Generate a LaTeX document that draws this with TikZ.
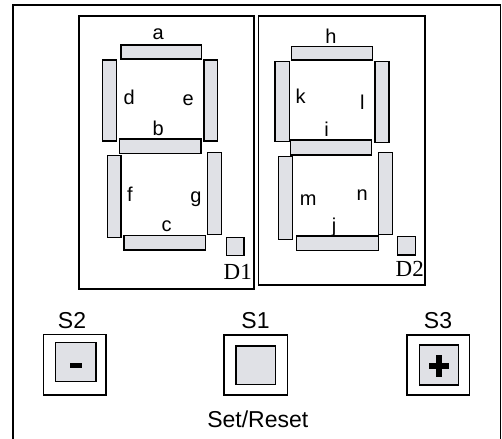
\documentclass[tikz,border=0pt]{standalone}
\usepackage{fontspec}
\setmainfont{Liberation Serif}
\setsansfont{Liberation Sans}
\definecolor{segfill}{RGB}{224,225,230}
\begin{document}
\begin{tikzpicture}[x=1pt,y=-1pt,
  frame/.style={draw=black,line width=1.8pt},
  seg/.style={draw=black,fill=segfill,line width=1.5pt},
  btnout/.style={draw=black,line width=1.4pt},
  btnin/.style={draw=black,fill=segfill,line width=1.4pt},
  seglbl/.style={inner sep=0pt,font=\sffamily\fontsize{20}{20}\selectfont},
  btnlbl/.style={inner sep=0pt,font=\sffamily\fontsize{23}{23}\selectfont},
  dlbl/.style={inner sep=0pt,font=\rmfamily\fontsize{23}{23}\selectfont}]
\useasboundingbox (0,0) rectangle (502,438);
% outer border
\draw[frame] (13,445) -- (13,5) -- (500.5,5) -- (500.5,445);
% digit boxes
\draw[frame] (79,16) rectangle (254.3,289);
\draw[frame] (258.5,16) rectangle (425,285);
% digit 1 segments
\draw[seg] (121,45) rectangle (201.7,59);
\draw[seg] (102.7,60) rectangle (116.7,141);
\draw[seg] (204,60) rectangle (217.7,141);
\draw[seg] (119.3,139) rectangle (201,153.3);
\draw[seg] (107.3,155.7) rectangle (121,237.7);
\draw[seg] (207.3,152.7) rectangle (221.7,234.3);
\draw[seg] (124,235.3) rectangle (205.7,250);
\draw[seg] (226.7,237.7) rectangle (244,255.7);
% digit 2 segments
\draw[seg] (291.7,46.7) rectangle (372.3,60);
\draw[seg] (275,61.7) rectangle (289.3,141.7);
\draw[seg] (375,61.7) rectangle (389,142.3);
\draw[seg] (290.7,140) rectangle (371.7,155);
\draw[seg] (278.3,156.7) rectangle (292.3,239.3);
\draw[seg] (378.3,152.7) rectangle (392.3,234.3);
\draw[seg] (296.7,236) rectangle (378.3,250.7);
\draw[seg] (397.5,236.7) rectangle (415.3,255);
% segment labels
\node[seglbl] (la) at (158.3,34.3) {a};
\node[seglbl] (ld) at (129.3,97) {d};
\node[seglbl] (le) at (188.3,100.7) {e};
\node[seglbl] (lb) at (158.3,128) {b};
\node[seglbl] (lf) at (130,194) {f};
\node[seglbl] (lg) at (196,199) {g};
\node[seglbl] (lc) at (166.7,226) {c};
\node[seglbl] (lh) at (331,36.7) {h};
\node[seglbl] (lk) at (300.7,96.7) {k};
\node[seglbl] (ll) at (362.3,102.5) {l};
\node[seglbl] (li) at (326.7,129) {i};
\node[seglbl] (lm) at (308.3,200) {m};
\node[seglbl] (ln) at (362.3,195) {n};
\node[seglbl] (lj) at (334,227) {j};
\node[dlbl] (d1) at (237.8,271.7) {D1};
\node[dlbl] (d2) at (409.7,268.7) {D2};
% buttons
\draw[btnout] (43.3,334.3) rectangle (106,395);
\draw[btnin] (55.7,342.7) rectangle (96,381.7);
\fill[black] (70,362.7) rectangle (81.7,368.3);
\draw[btnout] (224,335) rectangle (287.3,395);
\draw[btnin] (236,346) rectangle (275.7,384.3);
\draw[btnout] (407,335) rectangle (469.3,395);
\draw[btnin] (419.7,345) rectangle (458.7,385);
\fill[black] (428.7,363.3) rectangle (449.3,368.5);
\fill[black] (436.4,355) rectangle (441.6,376.7);
\node[btnlbl] (s2) at (72,320.7) {S2};
\node[btnlbl] (s1) at (255.5,320.7) {S1};
\node[btnlbl] (s3) at (438,320.7) {S3};
\node[btnlbl] (sr) at (257.8,419) {Set/Reset};
\end{tikzpicture}
\end{document}
